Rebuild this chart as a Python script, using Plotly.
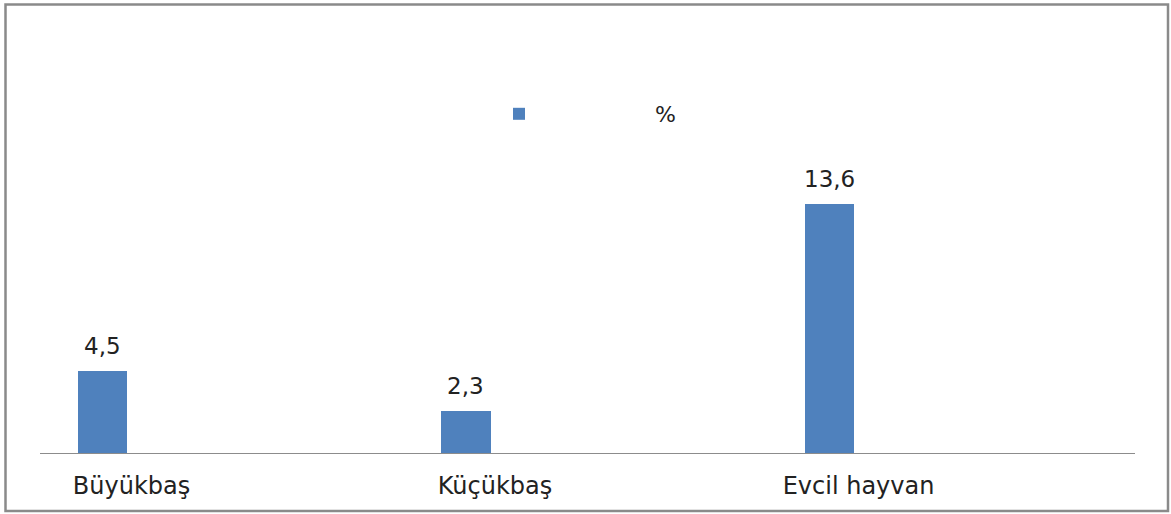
import plotly.graph_objects as go

categories = ["Büyükbaş", "Küçükbaş", "Evcil hayvan"]
values = [4.5, 2.3, 13.6]
series_name = "%"

W, H = 1171, 514
ML, MR, MT, MB = 40, 36, 30, 61
PW, PH = W - ML - MR, H - MT - MB
FONT = "DejaVu Sans"
TXT = "#222222"

xs = list(range(len(categories)))

fig = go.Figure()
fig.add_trace(go.Bar(
    x=xs, y=values, name=series_name, width=0.135,
    marker=dict(color="#4F81BD", line=dict(width=0)),
    showlegend=True,
))

# value labels above each bar, decimal comma
for x, v in zip(xs, values):
    fig.add_annotation(
        x=x, y=v, text=f"{v:.1f}".replace(".", ","), showarrow=False,
        yanchor="bottom", yshift=10,
        font=dict(family=FONT, size=23, color=TXT),
    )

def px_to_paper_x(px):
    return (px - ML) / PW

def px_to_paper_y(py):
    return (H - MB - py) / PH

# outer frame
fig.add_shape(type="rect", xref="paper", yref="paper",
              x0=px_to_paper_x(5.5), x1=px_to_paper_x(1168),
              y0=px_to_paper_y(511), y1=px_to_paper_y(4.5),
              line=dict(color="#8a8a8a", width=2.5), layer="below")

fig.update_layout(
    width=W, height=H,
    margin=dict(l=ML, r=MR, t=MT, b=MB, pad=0),
    paper_bgcolor="white", plot_bgcolor="white",
    bargap=0,
    font=dict(family=FONT, size=23, color=TXT),
    xaxis=dict(
        range=[-0.1719, 2.8405],
        tickvals=[x + 0.08 for x in xs], ticktext=categories,
        ticks="", showgrid=False, zeroline=False,
        showline=True, linecolor="#8c8c8c", linewidth=1.3,
        ticklabelstandoff=11,
        tickfont=dict(family=FONT, size=24, color=TXT),
    ),
    yaxis=dict(range=[0, 23.10], visible=False, showgrid=False, zeroline=False),
    legend=dict(
        orientation="h", x=px_to_paper_x(383), y=px_to_paper_y(93),
        xanchor="left", yanchor="top",
        itemwidth=262, font=dict(family=FONT, size=22, color=TXT),
        bgcolor="rgba(0,0,0,0)",
    ),
)

fig.write_html("out.html")
